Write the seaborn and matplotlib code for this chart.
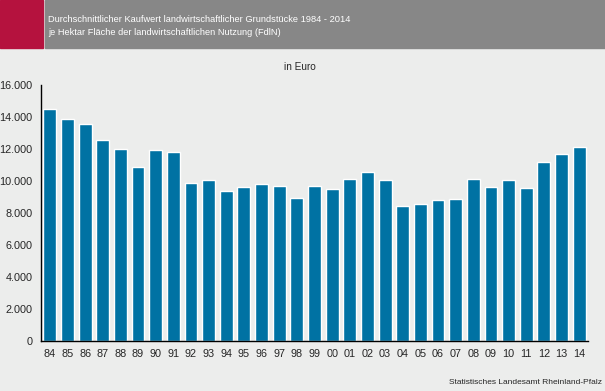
import matplotlib
matplotlib.use('Agg')
import matplotlib.pyplot as plt
import seaborn as sns
import pandas as pd
import numpy as np
from matplotlib.patches import Rectangle

# Data
years = ['84', '85', '86', '87', '88', '89', '90', '91', '92', '93', '94',
         '95', '96', '97', '98', '99', '00', '01', '02', '03', '04', '05',
         '06', '07', '08', '09', '10', '11', '12', '13', '14']
kaufwert = [14500, 13880, 13560, 12560, 12000, 10880, 11940, 11810, 9880,
            10060, 9380, 9630, 9810, 9690, 8940, 9690, 9500, 10130, 10560,
            10060, 8440, 8560, 8810, 8880, 10130, 9630, 10060, 9560, 11190,
            11690, 12130]
y_ticks = [0, 2000, 4000, 6000, 8000, 10000, 12000, 14000, 16000]
y_tick_labels = ['0', '2.000', '4.000', '6.000', '8.000', '10.000',
                 '12.000', '14.000', '16.000']

title_lines = ['Durchschnittlicher Kaufwert landwirtschaftlicher Grundstücke 1984 - 2014',
               'je Hektar Fläche der landwirtschaftlichen Nutzung (FdlN)']

df = pd.DataFrame({'jahr': years, 'wert': kaufwert})

sns.set_style('white')
plt.rcParams['font.family'] = ['Liberation Sans', 'DejaVu Sans']

bg = '#ecedec'
fig = plt.figure(figsize=(6.05, 3.91), dpi=100, facecolor=bg)

# Header band
fig.patches.append(Rectangle((0, 1 - 48 / 391), 43 / 605, 48 / 391,
                             transform=fig.transFigure, color='#b5123e', zorder=0))
fig.patches.append(Rectangle((45 / 605, 1 - 48 / 391), 1 - 45 / 605, 48 / 391,
                             transform=fig.transFigure, color='#878787', zorder=0))
fig.text(48 / 605, 1 - 19.5 / 391, title_lines[0], color='white', fontsize=6.7,
         va='center', ha='left')
fig.text(48 / 605, 1 - 32.5 / 391, title_lines[1], color='white', fontsize=6.7,
         va='center', ha='left')

ax = fig.add_axes([41 / 605, 50 / 391, (588 - 41) / 605, (341 - 85) / 391])
ax.set_facecolor(bg)

sns.barplot(data=df, x='jahr', y='wert', color='#0072a3', width=0.73,
            saturation=1, ax=ax)

ax.set_xlim(-0.5, len(years) - 0.5)
ax.set_ylim(0, 16000)
ax.set_yticks(y_ticks)
ax.set_yticklabels(y_tick_labels, fontsize=7.8)
ax.set_xticks(range(len(years)))
ax.set_xticklabels(years, fontsize=7.8)
ax.set_xticks(np.arange(len(years) + 1) - 0.5, minor=True)
ax.tick_params(axis='x', which='major', length=0, pad=6)
ax.tick_params(axis='x', which='minor', length=4, width=1, color='black')
ax.tick_params(axis='y', length=4, width=1, color='black', pad=2)
ax.set_xlabel('')
ax.set_ylabel('')
sns.despine(ax=ax)
for side in ['left', 'bottom']:
    ax.spines[side].set_color('black')
    ax.spines[side].set_linewidth(1)

fig.text(300 / 605, 1 - 67 / 391, 'in Euro', fontsize=7.2, ha='center', va='center')
fig.text(602 / 605, 1 - 382 / 391, 'Statistisches Landesamt Rheinland-Pfalz',
         fontsize=6.0, ha='right', va='center')

fig.savefig('out.png', dpi=100, facecolor=bg)
